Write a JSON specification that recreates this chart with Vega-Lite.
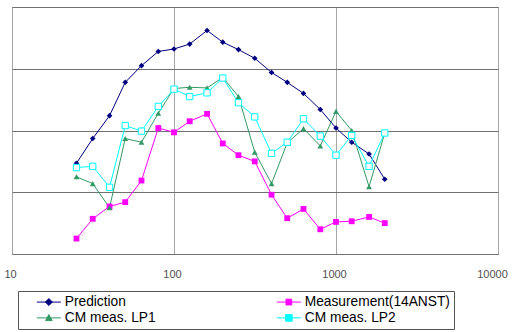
{
  "$schema": "https://vega.github.io/schema/vega-lite/v6.json",
  "width": 486,
  "height": 247,
  "autosize": {"type": "none"},
  "padding": {"left": 12, "top": 7, "right": 14, "bottom": 78},
  "background": "white",
  "config": {
    "view": {"stroke": "#8c8c8c", "strokeWidth": 1},
    "font": "Liberation Sans"
  },
  "data": {
    "values": [
      {"series": "Prediction", "freq": 25, "value": 1.47},
      {"series": "Prediction", "freq": 31.5, "value": 1.87},
      {"series": "Prediction", "freq": 40, "value": 2.24},
      {"series": "Prediction", "freq": 50, "value": 2.78},
      {"series": "Prediction", "freq": 63, "value": 3.05},
      {"series": "Prediction", "freq": 80, "value": 3.28},
      {"series": "Prediction", "freq": 100, "value": 3.32},
      {"series": "Prediction", "freq": 125, "value": 3.40},
      {"series": "Prediction", "freq": 160, "value": 3.62},
      {"series": "Prediction", "freq": 200, "value": 3.43},
      {"series": "Prediction", "freq": 250, "value": 3.31},
      {"series": "Prediction", "freq": 315, "value": 3.17},
      {"series": "Prediction", "freq": 400, "value": 2.94},
      {"series": "Prediction", "freq": 500, "value": 2.78},
      {"series": "Prediction", "freq": 630, "value": 2.60},
      {"series": "Prediction", "freq": 800, "value": 2.34},
      {"series": "Prediction", "freq": 1000, "value": 2.04},
      {"series": "Prediction", "freq": 1250, "value": 1.81},
      {"series": "Prediction", "freq": 1600, "value": 1.62},
      {"series": "Prediction", "freq": 2000, "value": 1.21},
      {"series": "Measurement(14ANST)", "freq": 25, "value": 0.25},
      {"series": "Measurement(14ANST)", "freq": 31.5, "value": 0.57},
      {"series": "Measurement(14ANST)", "freq": 40, "value": 0.77},
      {"series": "Measurement(14ANST)", "freq": 50, "value": 0.84},
      {"series": "Measurement(14ANST)", "freq": 63, "value": 1.19},
      {"series": "Measurement(14ANST)", "freq": 80, "value": 2.04},
      {"series": "Measurement(14ANST)", "freq": 100, "value": 1.97},
      {"series": "Measurement(14ANST)", "freq": 125, "value": 2.15},
      {"series": "Measurement(14ANST)", "freq": 160, "value": 2.27},
      {"series": "Measurement(14ANST)", "freq": 200, "value": 1.79},
      {"series": "Measurement(14ANST)", "freq": 250, "value": 1.60},
      {"series": "Measurement(14ANST)", "freq": 315, "value": 1.50},
      {"series": "Measurement(14ANST)", "freq": 400, "value": 0.96},
      {"series": "Measurement(14ANST)", "freq": 500, "value": 0.58},
      {"series": "Measurement(14ANST)", "freq": 630, "value": 0.73},
      {"series": "Measurement(14ANST)", "freq": 800, "value": 0.40},
      {"series": "Measurement(14ANST)", "freq": 1000, "value": 0.52},
      {"series": "Measurement(14ANST)", "freq": 1250, "value": 0.53},
      {"series": "Measurement(14ANST)", "freq": 1600, "value": 0.60},
      {"series": "Measurement(14ANST)", "freq": 2000, "value": 0.50},
      {"series": "CM meas. LP1", "freq": 25, "value": 1.25},
      {"series": "CM meas. LP1", "freq": 31.5, "value": 1.14},
      {"series": "CM meas. LP1", "freq": 40, "value": 0.75},
      {"series": "CM meas. LP1", "freq": 50, "value": 1.87},
      {"series": "CM meas. LP1", "freq": 63, "value": 1.81},
      {"series": "CM meas. LP1", "freq": 80, "value": 2.28},
      {"series": "CM meas. LP1", "freq": 100, "value": 2.68},
      {"series": "CM meas. LP1", "freq": 125, "value": 2.70},
      {"series": "CM meas. LP1", "freq": 160, "value": 2.69},
      {"series": "CM meas. LP1", "freq": 200, "value": 2.86},
      {"series": "CM meas. LP1", "freq": 250, "value": 2.55},
      {"series": "CM meas. LP1", "freq": 315, "value": 1.65},
      {"series": "CM meas. LP1", "freq": 400, "value": 1.14},
      {"series": "CM meas. LP1", "freq": 500, "value": 1.80},
      {"series": "CM meas. LP1", "freq": 630, "value": 2.03},
      {"series": "CM meas. LP1", "freq": 800, "value": 1.75},
      {"series": "CM meas. LP1", "freq": 1000, "value": 2.31},
      {"series": "CM meas. LP1", "freq": 1250, "value": 2.00},
      {"series": "CM meas. LP1", "freq": 1600, "value": 1.09},
      {"series": "CM meas. LP1", "freq": 2000, "value": 1.96},
      {"series": "CM meas. LP2", "freq": 25, "value": 1.40},
      {"series": "CM meas. LP2", "freq": 31.5, "value": 1.42},
      {"series": "CM meas. LP2", "freq": 40, "value": 1.08},
      {"series": "CM meas. LP2", "freq": 50, "value": 2.08},
      {"series": "CM meas. LP2", "freq": 63, "value": 1.99},
      {"series": "CM meas. LP2", "freq": 80, "value": 2.39},
      {"series": "CM meas. LP2", "freq": 100, "value": 2.67},
      {"series": "CM meas. LP2", "freq": 125, "value": 2.55},
      {"series": "CM meas. LP2", "freq": 160, "value": 2.61},
      {"series": "CM meas. LP2", "freq": 200, "value": 2.85},
      {"series": "CM meas. LP2", "freq": 250, "value": 2.45},
      {"series": "CM meas. LP2", "freq": 315, "value": 2.22},
      {"series": "CM meas. LP2", "freq": 400, "value": 1.63},
      {"series": "CM meas. LP2", "freq": 500, "value": 1.81},
      {"series": "CM meas. LP2", "freq": 630, "value": 2.19},
      {"series": "CM meas. LP2", "freq": 800, "value": 1.91},
      {"series": "CM meas. LP2", "freq": 1000, "value": 1.60},
      {"series": "CM meas. LP2", "freq": 1250, "value": 1.92},
      {"series": "CM meas. LP2", "freq": 1600, "value": 1.42},
      {"series": "CM meas. LP2", "freq": 2000, "value": 1.96}
    ]
  },
  "encoding": {
    "x": {
      "field": "freq", "type": "quantitative",
      "scale": {"type": "log", "domain": [10, 10000], "nice": false},
      "axis": {
        "title": null, "values": [10, 100, 1000, 10000], "format": "d",
        "grid": true, "gridColor": "#a6a6a6", "gridWidth": 1,
        "ticks": false, "domain": false, "labelFlush": false,
        "labelFontSize": 11, "labelColor": "#505050", "labelPadding": 14,
        "labelOffset": {"condition": {"test": "datum.value >= 10000", "value": -6}, "value": -2},
        "labelFont": "Liberation Sans"
      }
    },
    "y": {
      "field": "value", "type": "quantitative",
      "scale": {"domain": [0, 4], "nice": false, "zero": false},
      "axis": {
        "title": null, "values": [0, 1, 2, 3, 4], "grid": true,
        "gridColor": "#707070", "gridWidth": 1,
        "labels": false, "ticks": false, "domain": false
      }
    },
    "color": {
      "field": "series", "type": "nominal",
      "scale": {
        "domain": ["Prediction", "Measurement(14ANST)", "CM meas. LP1", "CM meas. LP2"],
        "range": ["#000080", "#ff00ff", "#339966", "#00ffff"]
      },
      "legend": {
        "title": null,
        "orient": "none",
        "legendX": 6,
        "legendY": 284,
        "columns": 2,
        "direction": "horizontal",
        "gridAlign": "each",
        "columnPadding": 106,
        "rowPadding": 1,
        "padding": 4,
        "symbolOffset": 20,
        "symbolSize": 144,
        "symbolStrokeWidth": 1,
        "labelFontSize": 13.75,
        "labelFont": "Liberation Sans",
        "labelColor": "#000000",
        "labelOffset": 9,
        "labelLimit": 400,
        "labelExpr": "datum.label === 'Measurement(14ANST)' || datum.label === 'CM meas. LP2' ? datum.label + '\u00a0\u00a0\u00a0\u00a0\u00a0\u00a0\u00a0\u00a0\u00a0\u00a0' : datum.label",
        "strokeColor": "#555555",
        "fillColor": "#ffffff",
        "encode": {
          "symbols": {
            "update": {
              "shape": {"signal": "datum.value === 'Prediction' ? 'M-2,0H2M0,-0.58L0.58,0L0,0.58L-0.58,0Z' : datum.value === 'Measurement(14ANST)' ? 'M-2,0H2M-0.48,-0.48H0.48V0.48H-0.48Z' : datum.value === 'CM meas. LP1' ? 'M-2,0H2M0,-0.55L0.55,0.45H-0.55Z' : 'M-2,0H2M-0.55,-0.55H0.55V0.55H-0.55Z'"},
              "fill": {"signal": "datum.value === 'Prediction' ? '#000080' : datum.value === 'Measurement(14ANST)' ? '#ff00ff' : datum.value === 'CM meas. LP1' ? '#339966' : '#ffffff'"},
              "stroke": {"signal": "datum.value === 'Prediction' ? '#000080' : datum.value === 'Measurement(14ANST)' ? '#ff00ff' : datum.value === 'CM meas. LP1' ? '#339966' : '#00ffff'"},
              "size": {"value": 144},
              "strokeWidth": {"value": 1},
              "opacity": {"value": 1},
              "fillOpacity": {"value": 1}
            }
          }
        }
      }
    }
  },
  "layer": [
    {
      "mark": {"type": "line", "strokeWidth": 1}
    },
    {
      "transform": [{"filter": "datum.series === 'Prediction'"}],
      "mark": {"type": "point", "filled": true, "opacity": 1, "size": 32, "shape": "diamond"}
    },
    {
      "transform": [{"filter": "datum.series === 'Measurement(14ANST)'"}],
      "mark": {"type": "point", "filled": true, "opacity": 1, "size": 34, "shape": "square"}
    },
    {
      "transform": [{"filter": "datum.series === 'CM meas. LP1'"}],
      "mark": {"type": "point", "filled": true, "opacity": 1, "size": 34, "shape": "triangle-up"}
    },
    {
      "transform": [{"filter": "datum.series === 'CM meas. LP2'"}],
      "mark": {"type": "point", "filled": false, "fill": "#ffffff", "opacity": 1, "fillOpacity": 1, "strokeWidth": 1, "size": 40, "shape": "square"}
    }
  ]
}
